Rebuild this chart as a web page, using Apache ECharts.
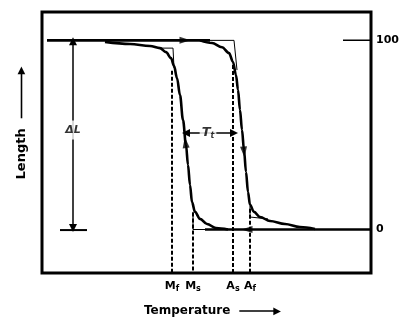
<!DOCTYPE html>
<html>
<head>
<meta charset="utf-8">
<script src="https://cdn.jsdelivr.net/npm/echarts@6/dist/echarts.min.js"></script>
<style>html,body{margin:0;padding:0;background:#fff}#c{width:400px;height:322px}</style>
</head>
<body>
<div id="c"></div>
<script>
// Temperature in arbitrary units, martensite in %
const topLine = [[5, 100], [168, 100]];
const bottomLine = [[163, 0], [329, 0]];
const coolingCurve = [[63, 99.2], [88, 98.1], [108, 97.0], [118, 95.9], [124, 93.8], [129, 90.7], [132, 86.5], [135, 80.1], [138, 71.1], [141, 57.9], [144, 44.7], [146, 34.1], [148, 23.5], [150, 14.5], [153, 9.3], [158, 5.6], [165, 2.9], [174, 0.8], [186, 0]];
const heatingCurve = [[158, 100], [170, 98.6], [180, 96.4], [187, 93.3], [191, 88.6], [194, 81.7], [196, 73.8], [198, 63.2], [200, 52.6], [202, 42.0], [204, 30.4], [206, 19.8], [208, 13.0], [212, 9.3], [218, 6.6], [228, 4.5], [243, 2.9], [258, 1.3], [273, 0.3]];
const tangentTopLeft = [[116, 95.9], [131, 95.9], [132, 85.4]];
const tangentTopRight = [[168, 100], [192, 100], [195, 84.3]];
const tangentBottomLeft = [[151, 9.3], [151, 0], [174, 0]];
const tangentBottomRight = [[208, 12.4], [208, 6.6], [226, 5.6]];
const transTemps = [130, 151, 191, 208];
const transNames = ['M|f', 'M|s', 'A|s', 'A|f'];
const transTopLevel = [84, 9, 87, 11];
const martensiteTicks = [0, 100];
const tick100 = [[301, 100], [329, 100]];
const deltaLX = 31;
const hystLevel = 51;
const hystFrom = 144, hystTo = 192;
// direction arrows: [temp, martensite, rotation]
const dirArrows = [[143, 100, -90], [143.5, 46, 7], [202, 41, 185], [205, 0, 90]];

const yMin = -23, yMax = 115;
const chart = echarts.init(document.getElementById('c'), null, {renderer: 'canvas'});
const F = 'DejaVu Sans';
const thick = {color: '#000', width: 2.6};
const thin = {color: '#000', width: 1};
function lineS(data, style, extra) {
  return Object.assign({type: 'line', data: data, symbol: 'none', lineStyle: style, silent: true, z: 3, animation: false}, extra || {});
}
const series = [
  lineS(topLine, thick),
  lineS(bottomLine, thick),
  lineS(coolingCurve, thick, {smooth: 0.35, smoothMonotone: 'x'}),
  lineS(heatingCurve, thick, {smooth: 0.35, smoothMonotone: 'x'}),
  lineS(tangentTopLeft, thin),
  lineS(tangentTopRight, thin),
  lineS(tangentBottomLeft, thin),
  lineS(tangentBottomRight, thin),
  lineS(tick100, {color: '#000', width: 1.5})
];
transTemps.forEach(function (t, i) {
  series.push(lineS([[t, transTopLevel[i]], [t, yMin]], {color: '#000', width: 2, type: [4, 2]}, {z: 2}));
});
series.push({
  type: 'lines', coordinateSystem: 'cartesian2d', silent: true, animation: false, z: 4,
  symbol: ['triangle', 'triangle'], symbolSize: 8,
  lineStyle: {color: '#000', width: 1.5, opacity: 1},
  data: [
    {coords: [[deltaLX, 0.8], [deltaLX, 99.5]]},
    {coords: [[hystTo, hystLevel], [hystFrom, hystLevel]]}
  ]
});
series.push(lineS([[deltaLX - 13, -0.3], [deltaLX + 14, -0.3]], {color: '#000', width: 2}));
series.push({
  type: 'scatter', silent: true, animation: false, z: 6,
  symbol: 'triangle',
  symbolSize: [7, 11],
  itemStyle: {color: '#000'},
  data: dirArrows.map(function (a) { return {value: [a[0], a[1]], symbolRotate: a[2]}; })
});
series.push({
  type: 'scatter', silent: true, animation: false, z: 10, symbolSize: 0,
  data: [
    {value: [deltaLX, 52.6], label: {show: true, position: 'inside', formatter: '{i|ΔL}', backgroundColor: '#fff', padding: [4, 1],
      rich: {i: {fontFamily: F, fontStyle: 'italic', fontWeight: 'bold', fontSize: 11, color: '#000'}}}},
    {value: [(hystFrom + hystTo) / 2 - 2, hystLevel], label: {show: true, position: 'inside', formatter: '{i|T}{s|t}', backgroundColor: '#fff', padding: [2, 2],
      rich: {i: {fontFamily: F, fontStyle: 'italic', fontWeight: 'bold', fontSize: 13, color: '#000'},
             s: {fontFamily: F, fontStyle: 'italic', fontWeight: 'bold', fontSize: 8, color: '#000', verticalAlign: 'bottom', padding: [6, 0, 0, 0]}}}}
  ]
});

function arrowRich(len) {
  return {
    l: {width: len, height: 1.6, backgroundColor: '#000', verticalAlign: 'middle'},
    h: {fontFamily: F, fontSize: 10, color: '#000', verticalAlign: 'middle', padding: [0, 0, 0, -2]}
  };
}

chart.setOption({
  animation: false,
  grid: {left: 42, right: 29, top: 12, bottom: 49, show: true, borderColor: '#000', borderWidth: 3, backgroundColor: 'transparent', containLabel: false, outerBoundsMode: 'none'},
  xAxis: {
    type: 'value', min: 0, max: 329,
    axisLine: {show: false}, axisTick: {show: false}, splitLine: {show: false},
    axisLabel: {
      customValues: transTemps, margin: 7,
      formatter: function (v) {
        const i = transTemps.indexOf(v);
        if (i < 0) return '';
        const p = transNames[i].split('|');
        return '{m|' + p[0] + '}{s|' + p[1] + '}';
      },
      rich: {
        m: {fontFamily: F, fontWeight: 'bold', fontSize: 11, color: '#000'},
        s: {fontFamily: F, fontWeight: 'bold', fontSize: 8, color: '#000', verticalAlign: 'bottom', padding: [5, 0, 0, 0]}
      }
    },
    name: '{t|Temperature}{g|}{l|}{h|▶}', nameLocation: 'middle', nameGap: 32,
    nameTextStyle: {
      padding: [0, 0, 0, 12],
      rich: Object.assign({
        t: {fontFamily: F, fontWeight: 'bold', fontSize: 12, color: '#000', verticalAlign: 'middle'},
        g: {width: 9}
      }, arrowRich(36))
    }
  },
  yAxis: [
    {
      type: 'value', position: 'left', min: yMin, max: yMax,
      axisLine: {show: false}, splitLine: {show: false}, axisTick: {show: false}, axisLabel: {show: false},
      name: '{t|Length}{g|}{l|}{h|▶}', nameLocation: 'middle', nameRotate: 90, nameGap: 14,
      nameTextStyle: {
        padding: [0, 0, 0, 39],
        rich: Object.assign({
          t: {fontFamily: F, fontWeight: 'bold', fontSize: 13, color: '#000', verticalAlign: 'middle'},
          g: {width: 10}
        }, arrowRich(46))
      }
    },
    {
      type: 'value', position: 'right', min: yMin, max: yMax,
      axisLine: {show: false}, splitLine: {show: false}, axisTick: {show: false},
      axisLabel: {customValues: martensiteTicks, margin: 5, fontFamily: F, fontWeight: 'bold', fontSize: 11, color: '#000'},
      name: 'Martensite, %', nameLocation: 'middle', nameRotate: 90, nameGap: 16,
      nameTextStyle: {fontFamily: F, fontWeight: 'bold', fontSize: 12, color: '#000', padding: [0, 0, 0, 30]}
    }
  ],
  series: series
});
</script>
</body>
</html>
